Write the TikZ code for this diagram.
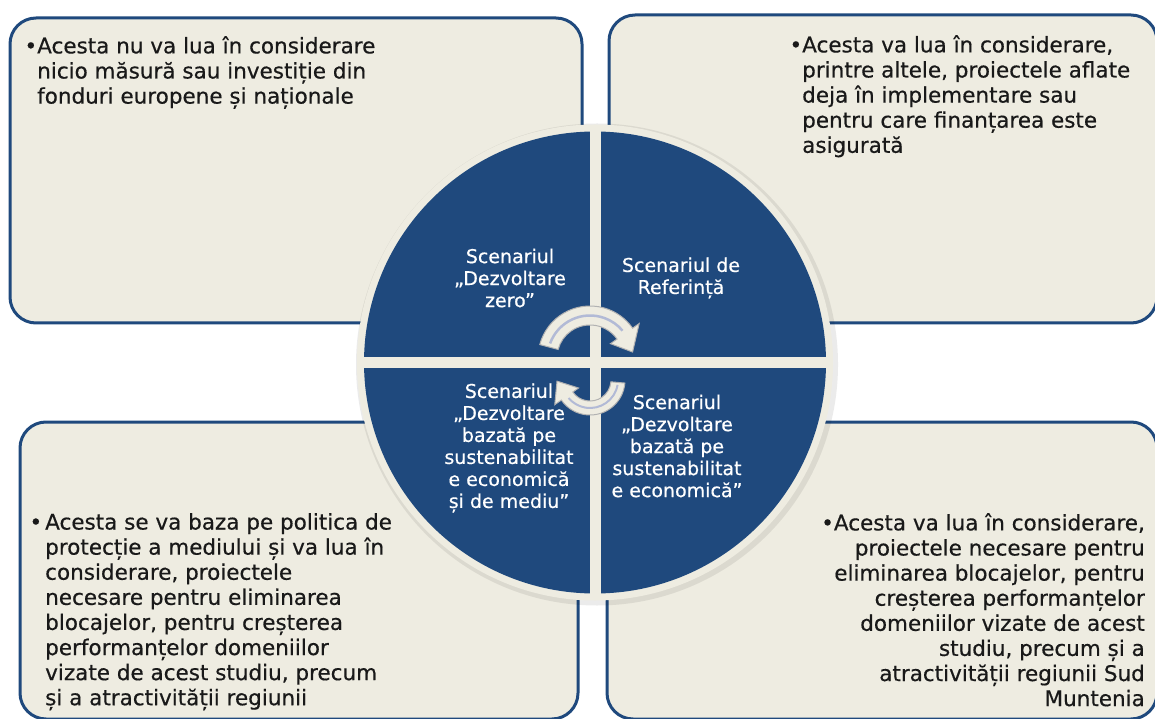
\documentclass[tikz,border=0pt]{standalone}
\usepackage{fontspec}
\setmainfont{DejaVu Sans}[FakeBold=0.5]
\usetikzlibrary{calc}
\definecolor{navy}{RGB}{31,73,125}
\definecolor{sand}{RGB}{238,236,225}
\definecolor{lilac}{RGB}{178,186,214}

\begin{document}
\begin{tikzpicture}[x=1pt,y=1pt,
  panel/.style={draw=navy,line width=3pt,fill=sand,rounded corners=26pt},
  note/.style={inner sep=0pt,text=black!90,font=\fontsize{21.5}{25.1}\selectfont},
  quad/.style={inner sep=0pt,align=center,text=white,font=\fontsize{19}{22}\selectfont},
  turn/.style={fill=sand,draw=black!30,line width=1pt}
]
  \useasboundingbox (0,0) rectangle (1155,718);

  % four panels
  \draw[panel] (10,395)  rectangle (582,700);
  \draw[panel] (609,395) rectangle (1157,703);
  \draw[panel] (20,-1)   rectangle (578,296);
  \draw[panel] (607,-1)  rectangle (1157,296);

  \node[note,anchor=north west,align=left] (zero) at (37,682)
    {\llap{•}Acesta nu va lua în considerare\\nicio măsură sau investiție din\\fonduri europene și naționale};
  \node[note,anchor=north west,align=left] (ref) at (802,683)
    {\llap{•}Acesta va lua în considerare,\\printre altele, proiectele aflate\\deja în implementare sau\\pentru care finanțarea este\\asigurată};
  \node[note,anchor=north west,align=left] (mediu) at (45,205)
    {\llap{•\hspace{3pt}}Acesta se va baza pe politica de\\protecție a mediului și va lua în\\considerare, proiectele\\necesare pentru eliminarea\\blocajelor, pentru creșterea\\performanțelor domeniilor\\vizate de acest studiu, precum\\și a atractivității regiunii};
  \node[note,anchor=north east,align=right] (econ) at (1145,205)
    {•Acesta va lua în considerare,\\proiectele necesare pentru\\eliminarea blocajelor, pentru\\creșterea performanțelor\\domeniilor vizate de acest\\studiu, precum și a\\atractivității regiunii Sud\\Muntenia};

  % circle in four quarters
  \coordinate (c) at (595,355.5);
  \fill[black,opacity=0.08] ($(c)+(2,-2)$) circle[radius=241];
  \fill[sand] (c) circle[radius=238];
  \fill[navy] (c) circle[radius=231];
  \draw[sand,line width=11pt] ($(c)+(-236,0)$) -- ($(c)+(236,0)$);
  \draw[sand,line width=11pt] ($(c)+(0,-236)$) -- ($(c)+(0,236)$);

  \node[quad] (qzero)  at (510,440) {Scenariul\\„Dezvoltare\\zero”};
  \node[quad] (qref)   at (681,440) {Scenariul de\\Referință};
  \node[quad] (qmediu) at (509,270) {Scenariul\\„Dezvoltare\\bazată pe\\sustenabilitat\\e economică\\și de mediu”};
  \node[quad] (qecon)  at (677,272) {Scenariul\\„Dezvoltare\\bazată pe\\sustenabilitat\\e economică”};

  % cycle arrows
  \coordinate (a1) at (590,360);
  \coordinate (a2) at (590,338);
  \draw[turn] ($(a1)+(165:52)$) arc[start angle=165,end angle=35,radius=52]
    -- ($(a1)+(35:60)$) -- ($(a1)+(8:43)$) -- ($(a1)+(35:25)$)
    -- ($(a1)+(35:33)$) arc[start angle=35,end angle=165,radius=33] -- cycle;
  \draw[lilac,line width=2.5pt] ($(a1)+(160:42.5)$) arc[start angle=160,end angle=40,radius=42.5];
  \draw[turn] ($(a2)+(-5:35)$) arc[start angle=-5,end angle=-145,radius=35]
    -- ($(a2)+(-145:43)$) -- ($(a2)+(-178:33)$) -- ($(a2)+(-145:14)$)
    -- ($(a2)+(-145:21)$) arc[start angle=-145,end angle=-5,radius=21] -- cycle;
  \draw[lilac,line width=2pt] ($(a2)+(-10:28)$) arc[start angle=-10,end angle=-140,radius=28];
\end{tikzpicture}
\end{document}
